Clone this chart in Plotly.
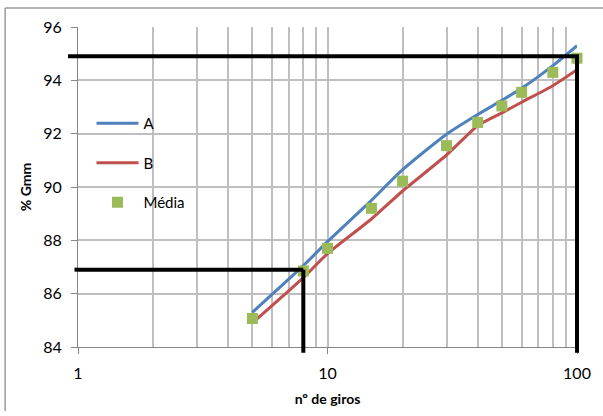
import plotly.graph_objects as go

giros = [5, 8, 10, 15, 20, 30, 40, 50, 60, 80, 100]
serie_a = [85.3, 87.05, 87.95, 89.5, 90.65, 91.98, 92.72, 93.25, 93.7, 94.55, 95.3]
serie_b = [84.9, 86.6, 87.5, 88.8, 89.85, 91.2, 92.3, 92.78, 93.18, 93.8, 94.4]
media = [85.07, 86.85, 87.7, 89.2, 90.22, 91.55, 92.42, 93.04, 93.55, 94.3, 94.83]

x_ticks = [1, 10, 100]
x_minor = [2, 3, 4, 5, 6, 7, 8, 9, 20, 30, 40, 50, 60, 70, 80, 90]
y_ticks = [84, 86, 88, 90, 92, 94, 96]

ref_n = 8
ref_gmm_n = 86.9
max_n = 100
ref_gmm_max = 94.9

FONT = "Lato"
fig = go.Figure()
fig.add_trace(go.Scatter(x=giros, y=serie_a, mode="lines", name="A", legendgroup="a",
                         line=dict(color="#4F81BD", width=3, shape="spline", smoothing=0.6)))
fig.add_trace(go.Scatter(x=giros, y=serie_b, mode="lines", name="B", legendgroup="b",
                         line=dict(color="#C0504D", width=3, shape="spline", smoothing=0.6)))
fig.add_trace(go.Scatter(x=giros, y=media, mode="markers", name="Média", legendgroup="m",
                         marker=dict(symbol="square", size=11, color="#9BBB59"),
                         cliponaxis=False))

blk = dict(color="black", width=4)
border = dict(color="#9A9A9A", width=1.5)
shapes = [
    # outer chart border (left and top edges visible)
    dict(type="line", xref="paper", yref="paper", x0=-0.146, x1=-0.146, y0=-0.2, y1=1.059, line=border),
    dict(type="line", xref="paper", yref="paper", x0=-0.146, x1=1.1, y0=1.059, y1=1.059, line=border),
    # top guide line
    dict(type="line", xref="x domain", yref="y", x0=-0.02, x1=1.004, y0=ref_gmm_max, y1=ref_gmm_max, line=blk),
    # right vertical guide at N=100
    dict(type="line", xref="x domain", yref="y", x0=1, x1=1, y0=84, y1=ref_gmm_max, line=blk),
    dict(type="line", xref="x domain", yref="y domain", x0=1, x1=1, y0=-0.018, y1=0.001, line=blk),
    # lower guide at N=8
    dict(type="line", xref="x domain", yref="y", x0=-0.007, x1=0.0, y0=ref_gmm_n, y1=ref_gmm_n, line=blk),
    dict(type="line", xref="x", yref="y", x0=1, x1=ref_n, y0=ref_gmm_n, y1=ref_gmm_n, line=blk),
    dict(type="line", xref="x", yref="y", x0=ref_n, x1=ref_n, y0=84, y1=ref_gmm_n, line=blk),
    dict(type="line", xref="x", yref="y domain", x0=ref_n, x1=ref_n, y0=-0.018, y1=0.001, line=blk),
]

grid = "#BFBFBF"
fig.update_layout(
    width=603, height=416,
    margin=dict(l=78, r=22, t=27, b=65),
    paper_bgcolor="white", plot_bgcolor="white",
    font=dict(family=FONT, size=16, color="black"),
    shapes=shapes,
    showlegend=True,
    legend=dict(x=0.027, y=0.75, xanchor="left", yanchor="top", bgcolor="rgba(0,0,0,0)",
                font=dict(family=FONT, size=15), tracegroupgap=17, traceorder="grouped",
                itemwidth=42),
    xaxis=dict(type="log", range=[0, 2], tickvals=x_ticks, ticktext=[str(v) for v in x_ticks],
               showgrid=True, gridcolor=grid, gridwidth=1.5,
               minor=dict(tickvals=x_minor, showgrid=True, gridcolor=grid, gridwidth=1.5, ticks=""),
               ticks="outside", ticklen=6, tickcolor="#868686", tickwidth=1,
               showline=True, linecolor="#868686", linewidth=1, zeroline=False,
               ticklabelstandoff=6,
               title=dict(text="<b>nº de giros</b>", font=dict(family=FONT, size=14), standoff=12)),
    yaxis=dict(range=[84, 96], tickvals=y_ticks, showgrid=True, gridcolor=grid, gridwidth=1.5,
               ticks="outside", ticklen=6, tickcolor="#868686", tickwidth=1,
               showline=True, linecolor="#868686", linewidth=1, zeroline=False,
               ticklabelstandoff=6,
               title=dict(text="<b>% Gmm</b>", font=dict(family=FONT, size=14), standoff=8)),
)

fig.write_html("out.html", config={"displayModeBar": False},
               post_script="document.body.style.margin='0';")
